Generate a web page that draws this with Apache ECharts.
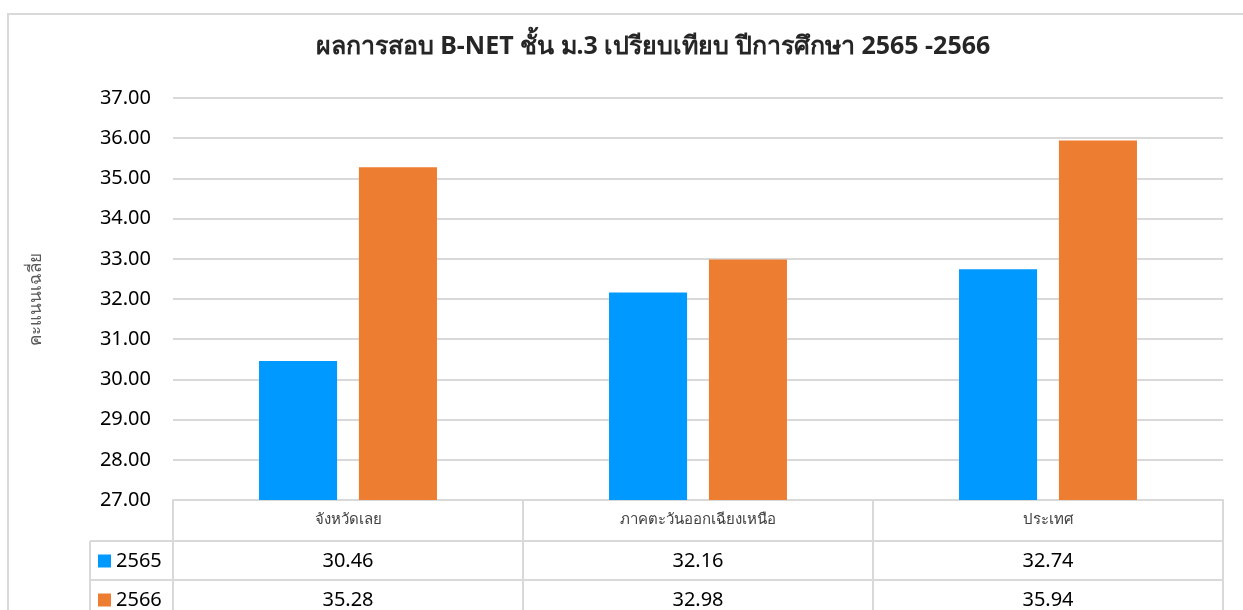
<!DOCTYPE html>
<html>
<head>
<meta charset="utf-8">
<script src="https://cdn.jsdelivr.net/npm/echarts@6/dist/echarts.min.js"></script>
<style>
  html, body { margin: 0; padding: 0; background: #fff; }
  #chart { width: 1243px; height: 610px; }
</style>
</head>
<body>
<div id="chart"></div>
<script>
// ข้อมูลคะแนนเฉลี่ย
const categories = ['จังหวัดเลย', 'ภาคตะวันออกเฉียงเหนือ', 'ประเทศ'];
const years = ['2565', '2566'];
const scores2565 = [30.46, 32.16, 32.74];
const scores2566 = [35.28, 32.98, 35.94];
const yMin = 27, yMax = 37, yStep = 1;

const colors = ['#0099FF', '#ED7D31'];
const lineColor = '#D9D9D9';
const font = '"Noto Sans", "Open Sans", sans-serif';

const fmt = v => v.toFixed(2);

const chart = echarts.init(document.getElementById('chart'));

// legend แยกเป็นสองอัน ให้วางในคอลัมน์ซ้ายของตาราง
const legendItem = (name, top) => ({
  left: 93,
  top: top,
  itemWidth: 13,
  itemHeight: 13,
  icon: 'rect',
  data: [name],
  textStyle: { fontSize: 20, color: '#000' }
});

const option = {
  animation: false,
  color: colors,
  textStyle: { fontFamily: font },
  title: {
    text: 'ผลการสอบ B-NET ชั้น ม.3 เปรียบเทียบ ปีการศึกษา 2565 -2566',
    left: 648,
    top: 29,
    textAlign: 'center',
    textStyle: { fontSize: 25, fontWeight: 'bold', color: '#262626', fontFamily: font }
  },
  legend: [legendItem(years[0], 546), legendItem(years[1], 585)],
  grid: { left: 173, right: 20, top: 98, bottom: 110 },
  xAxis: [
    {
      type: 'category',
      data: categories,
      position: 'bottom',
      axisLine: { show: true, lineStyle: { color: lineColor, width: 2 } },
      axisTick: { show: true, length: 120, lineStyle: { color: lineColor, width: 2 } },
      axisLabel: { fontSize: 15, color: '#404040', margin: 12 }
    },
    {
      type: 'category',
      data: scores2565.map(fmt),
      position: 'bottom',
      offset: 41,
      axisLine: { show: true, lineStyle: { color: lineColor, width: 2 } },
      axisTick: { show: false },
      axisLabel: { fontSize: 20, color: '#000', margin: 10 }
    },
    {
      type: 'category',
      data: scores2566.map(fmt),
      position: 'bottom',
      offset: 80,
      axisLine: { show: true, lineStyle: { color: lineColor, width: 2 } },
      axisTick: { show: false },
      axisLabel: { fontSize: 20, color: '#000', margin: 10 }
    }
  ],
  yAxis: {
    type: 'value',
    min: yMin,
    max: yMax,
    interval: yStep,
    name: 'คะแนนเฉลี่ย',
    nameLocation: 'middle',
    nameRotate: 90,
    nameGap: 128,
    nameTextStyle: { fontSize: 17, color: '#595959' },
    axisLine: { show: false },
    axisTick: { show: false },
    axisLabel: { fontSize: 20, color: '#000', margin: 22, formatter: v => v.toFixed(2) },
    splitLine: { lineStyle: { color: lineColor, width: 2 } }
  },
  series: [
    { name: years[0], type: 'bar', data: scores2565, barWidth: '22.3%', barGap: '28%' },
    { name: years[1], type: 'bar', data: scores2566, barWidth: '22.3%', barGap: '28%' }
  ],
  graphic: [
    // กรอบนอก
    { type: 'rect', shape: { x: 8, y: 14, width: 1400, height: 800 },
      style: { fill: 'none', stroke: lineColor, lineWidth: 2 }, silent: true, z: -10 },
    // ส่วนซ้ายของตาราง
    { type: 'line', shape: { x1: 90, y1: 541, x2: 173, y2: 541 }, style: { stroke: lineColor, lineWidth: 2 } },
    { type: 'line', shape: { x1: 90, y1: 580, x2: 173, y2: 580 }, style: { stroke: lineColor, lineWidth: 2 } },
    { type: 'line', shape: { x1: 90, y1: 541, x2: 90, y2: 620 }, style: { stroke: lineColor, lineWidth: 2 } }
  ]
};

chart.setOption(option);
window.addEventListener('resize', () => chart.resize());
</script>
</body>
</html>
